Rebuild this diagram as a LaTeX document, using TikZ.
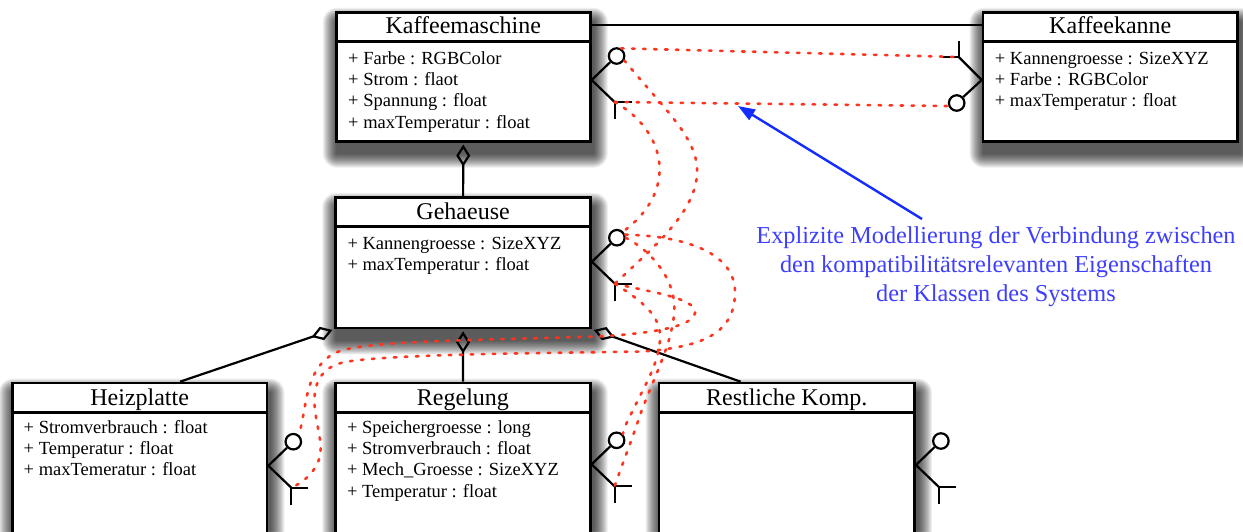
\documentclass[tikz,border=0pt]{standalone}
\usepackage{fontspec}
\setmainfont{Liberation Serif}
\usetikzlibrary{arrows.meta,calc}

\definecolor{linkred}{RGB}{255,52,30}
\definecolor{notearrow}{RGB}{20,45,255}
\definecolor{notetext}{RGB}{62,62,255}

\pgfdeclarelayer{shade}
\pgfsetlayers{shade,main}

\tikzset{
  classbox/.style={draw=black, line width=2.6pt, fill=white, inner sep=0pt, anchor=north west},
  classtitle/.style={anchor=base, inner sep=0pt, font=\fontsize{24}{28}\selectfont},
  attr/.style={anchor=base west, inner sep=0pt, font=\fontsize{18.5}{21.4}\selectfont},
  assoc/.style={draw=black, line width=2.2pt},
  aggr/.style={assoc, {Diamond[open, length=22pt, width=14pt]}-, shorten <=2pt},
  lolli/.style={circle, draw=black, fill=white, line width=2.2pt, minimum size=15.5pt, inner sep=0pt},
  portline/.style={draw=black, line width=2.2pt},
  link/.style={draw=linkred, line width=2.6pt, line cap=round, dash pattern=on 2.5pt off 8.5pt},
  note/.style={text=notetext, align=center, inner sep=0pt, font=\fontsize{24.3}{29.3}\selectfont},
  notearrowline/.style={draw=notearrow, line width=2.4pt, -{Triangle[length=17pt, width=12pt]}},
  shadelayer/.style={fill=black, opacity=0.034},
}

% soft drop shadow behind a class box, built from stacked translucent layers
\newcommand{\classshadow}[1]{%
  \begin{pgfonlayer}{shade}
    \foreach \r in {1,...,26}
      \fill[shadelayer, rounded corners={0.55*\r pt}]
        ($(#1.north west)+({2-0.55*\r},{11-0.55*\r})$) rectangle ($(#1.south east)+({2+0.55*\r},{11+0.55*\r})$);
  \end{pgfonlayer}}

% separator under the class name
\newcommand{\classsep}[1]{%
  \draw[line width=2.6pt] ($(#1.north west)+(0,30.7)$) -- ($(#1.north east)+(0,30.7)$);}

% port symbol on the right edge: lollipop up, socket down
\newcommand{\portsright}[2]{%
  \coordinate (#1-v) at (#2);
  \node[lolli] (#1-l) at ($(#1-v)+(25,-24)$) {};
  \coordinate (#1-s) at ($(#1-v)+(23,22)$);
  \draw[portline] (#1-v) -- (#1-l);
  \draw[portline] (#1-v) -- (#1-s);
  \draw[portline] ($(#1-s)+(17,0)$) -- (#1-s) -- ($(#1-s)+(0,17)$);}

% port symbol on the left edge: socket up, lollipop down
\newcommand{\portsleft}[2]{%
  \coordinate (#1-v) at (#2);
  \node[lolli] (#1-l) at ($(#1-v)+(-25,23)$) {};
  \coordinate (#1-s) at ($(#1-v)+(-23,-23)$);
  \draw[portline] (#1-v) -- (#1-l);
  \draw[portline] (#1-v) -- (#1-s);
  \draw[portline] ($(#1-s)+(-16,0)$) -- (#1-s) -- ($(#1-s)+(0,-16)$);}

\begin{document}
\begin{tikzpicture}[x=1pt, y=-1pt]
\begin{pgfonlayer}{shade}
  \fill[white] (0,0) rectangle (1243,531);
\end{pgfonlayer}
\useasboundingbox (0,0) rectangle (1243,531);
\clip (0,0) rectangle (1243,531);

% ---------- classes ----------
\node[classbox, minimum width=254pt, minimum height=129pt] (km) at (335,11) {};
\classshadow{km}
\classsep{km}
\node[classtitle] (km-t) at ($(km.north)+(0,22.5)$) {Kaffeemaschine};
\foreach \t [count=\i] in {+ Farbe : RGBColor, + Strom : flaot, + Spannung : float, + maxTemperatur : float}
  \node[attr] (km-a\i) at ($(km.north west)+(13,{53+21.4*(\i-1)})$) {\t};

\node[classbox, minimum width=254.5pt, minimum height=129pt] (kk) at (981.7,11) {};
\classshadow{kk}
\classsep{kk}
\node[classtitle] (kk-t) at ($(kk.north)+(0,22.5)$) {Kaffeekanne};
\foreach \t [count=\i] in {+ Kannengroesse : SizeXYZ, + Farbe : RGBColor, + maxTemperatur : float}
  \node[attr] (kk-a\i) at ($(kk.north west)+(13,{53+21.4*(\i-1)})$) {\t};

\node[classbox, minimum width=255pt, minimum height=130.7pt] (gh) at (334.3,196) {};
\classshadow{gh}
\classsep{gh}
\node[classtitle] (gh-t) at ($(gh.north)+(0,23.3)$) {Gehaeuse};
\foreach \t [count=\i] in {+ Kannengroesse : SizeXYZ, + maxTemperatur : float}
  \node[attr] (gh-a\i) at ($(gh.north west)+(13,{53.3+21.4*(\i-1)})$) {\t};

\node[classbox, minimum width=254.7pt, minimum height=200pt] (hp) at (11,381.7) {};
\classshadow{hp}
\classsep{hp}
\node[classtitle] (hp-t) at ($(hp.north)+(0,23.3)$) {Heizplatte};
\foreach \t [count=\i] in {+ Stromverbrauch : float, + Temperatur : float, + maxTemeratur : float}
  \node[attr] (hp-a\i) at ($(hp.north west)+(12.5,{51.8+21.2*(\i-1)})$) {\t};

\node[classbox, minimum width=254.7pt, minimum height=200pt] (rg) at (334.3,381.7) {};
\classshadow{rg}
\classsep{rg}
\node[classtitle] (rg-t) at ($(rg.north)+(0,23.3)$) {Regelung};
\foreach \t [count=\i] in {+ Speichergroesse : long, + Stromverbrauch : float, + Mech\_Groesse : SizeXYZ, + Temperatur : float}
  \node[attr] (rg-a\i) at ($(rg.north west)+(12.5,{51.8+21.2*(\i-1)})$) {\t};

\node[classbox, minimum width=255.6pt, minimum height=200pt] (rk) at (657.7,381.7) {};
\classshadow{rk}
\classsep{rk}
\node[classtitle] (rk-t) at ($(rk.north)+(0,23.3)$) {Restliche Komp.};

% ---------- associations ----------
\draw[assoc] ($(km.north east)+(0,14)$) -- ($(kk.north west)+(0,14)$);
\draw[aggr] (km.south) -- (gh.north);
\draw[aggr] (gh.south west) -- ($(hp.north west)+(169,0)$);
\draw[aggr] (gh.south) -- (rg.north);
\draw[aggr] (gh.south east) -- ($(rk.north west)+(83,0)$);

% ---------- ports ----------
\portsright{kmp}{$(km.north east)+(0,69)$}
\portsright{ghp}{$(gh.north east)+(0,65.7)$}
\portsright{hpp}{$(hp.north east)+(0,84)$}
\portsright{rgp}{$(rg.north east)+(0,82.6)$}
\portsright{rkp}{$(rk.north east)+(0,83.3)$}
\portsleft{kkp}{$(kk.north west)+(0,69)$}

% ---------- property links ----------
\draw[link] (kmp-l.60) -- (kkp-s);
\draw[link] (kmp-s) -- (kkp-l.200);
\draw[link] (kmp-s) .. controls (665,130) and (680,190) .. (ghp-l.45);
\draw[link] (kmp-l.-30) .. controls (665,110) and (700,140) .. (697,175)
  .. controls (694,215) and (650,250) .. (ghp-s);
\draw[link] (ghp-l.20) .. controls (690,236) and (735,255) .. (735,292)
  .. controls (735,335) and (700,347) .. (643,351.5)
  .. controls (550,353) and (390,354) .. (345,362)
  .. controls (320,367) and (312,385) .. (315,410)
  .. controls (318,435) and (326,450) .. (315,468)
  .. controls (307,480) and (297,485) .. (hpp-s);
\draw[link] (ghp-s) .. controls (650,292) and (697,298) .. (695,313)
  .. controls (693,327) and (650,333) .. (607,336)
  .. controls (500,340) and (380,340) .. (343,350)
  .. controls (318,357) and (310,380) .. (306,400)
  .. controls (303,418) and (300,430) .. (hpp-l.45);
\draw[link] (ghp-l.0) .. controls (650,250) and (678,280) .. (674,315)
  .. controls (671,345) and (655,375) .. (640,415)
  .. controls (632,440) and (620,470) .. (rgp-s);
\draw[link] (ghp-s) .. controls (640,300) and (662,315) .. (660,340)
  .. controls (658,365) and (645,385) .. (633,410)
  .. controls (627,422) and (623,430) .. (rgp-l.45);

% ---------- note ----------
\node[note] (note) at (996,266.5) {Explizite Modellierung der Verbindung zwischen\\den kompatibilitätsrelevanten Eigenschaften\\der Klassen des Systems};
\coordinate (note-tail) at (922,219);
\coordinate (note-tip) at (738,106);
\draw[notearrowline] (note-tail) -- (note-tip);
\end{tikzpicture}
\end{document}
